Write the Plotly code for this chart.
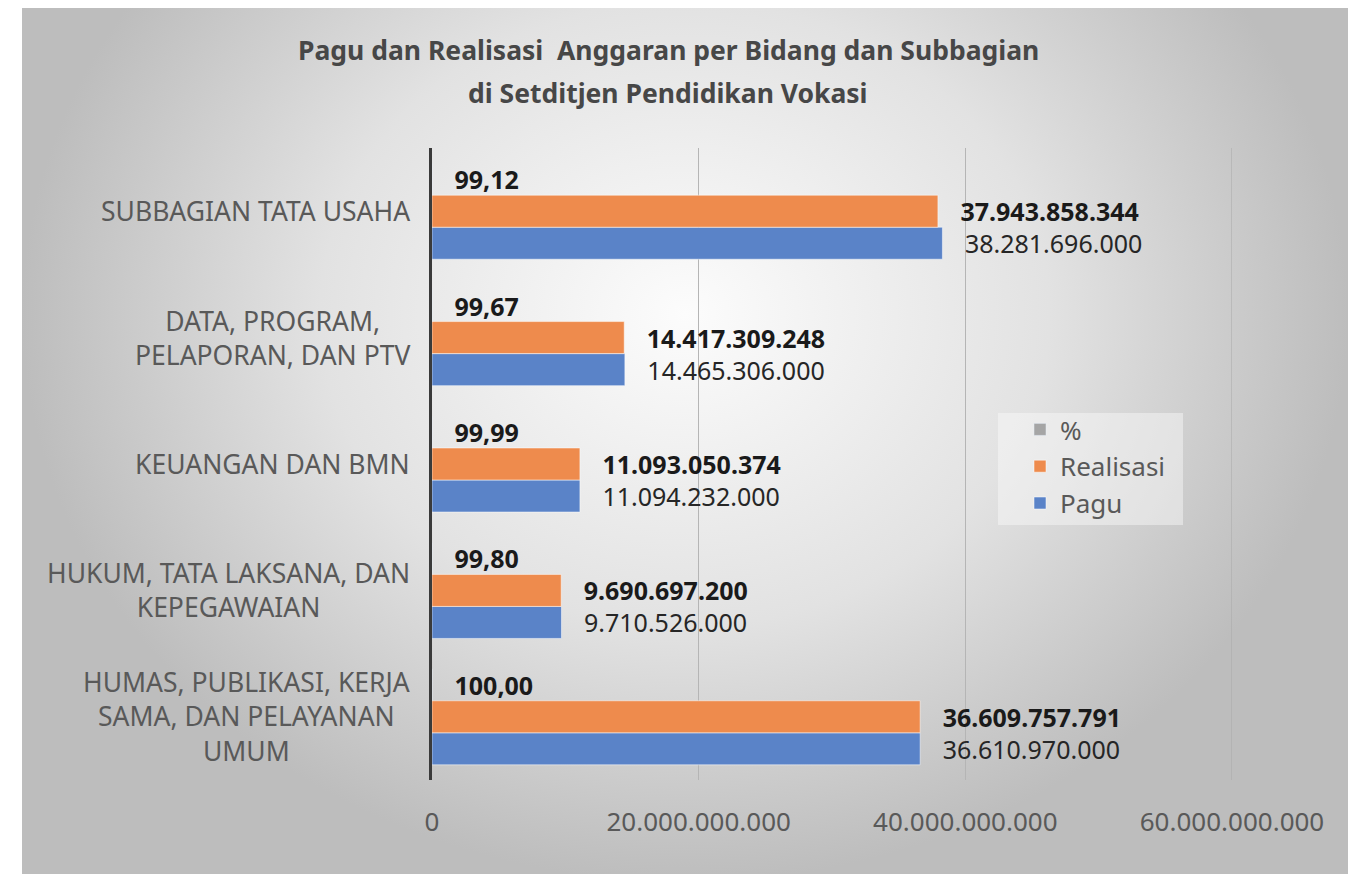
import plotly.graph_objects as go

# data (bottom to top, as plotly draws categories)
kategori = [
    'HUMAS, PUBLIKASI, KERJA<br>SAMA, DAN PELAYANAN<br>UMUM',
    'HUKUM, TATA LAKSANA, DAN<br>KEPEGAWAIAN',
    'KEUANGAN DAN BMN',
    'DATA, PROGRAM,<br>PELAPORAN, DAN PTV',
    'SUBBAGIAN TATA USAHA',
]
pagu = [36610970000, 9710526000, 11094232000, 14465306000, 38281696000]
realisasi = [36609757791, 9690697200, 11093050374, 14417309248, 37943858344]
persen = [100.00, 99.80, 99.99, 99.67, 99.12]
tick_vals = [0, 20000000000, 40000000000, 60000000000]

FONT = 'Noto Sans'
W, H = 1363, 874
OFF = 8  # margin body halaman
pad = '\u00a0\u00a0\u00a0'


def px(x):
    return (x - OFF) / W


def py(y):
    return 1 - (y - OFF) / H


fig = go.Figure()

# latar belakang gradasi (subplot x/y, disembunyikan)
fig.add_trace(go.Scatter(
    x=[0, 1, 1, 0, 0], y=[0, 0, 1.3, 1.3, 0],
    xaxis='x', yaxis='y', mode='none', fill='toself',
    fillgradient=dict(type='radial', colorscale=[[0, '#fcfcfc'], [0.55, '#e2e2e2'], [1, '#bdbdbd']]),
    hoverinfo='skip', showlegend=False,
))

fig.add_trace(go.Bar(
    y=kategori, x=pagu, name='Pagu', orientation='h',
    xaxis='x2', yaxis='y2',
    marker=dict(color='#5A83C8', line=dict(color='rgba(255,255,255,0.5)', width=1)),
    texttemplate=pad + '%{x:,.0f}', textposition='outside',
    textfont=dict(family=FONT, size=25, color='#262626'),
    constraintext='none',
))
fig.add_trace(go.Bar(
    y=kategori, x=realisasi, name='Realisasi', orientation='h',
    xaxis='x2', yaxis='y2',
    marker=dict(color='#EE8B4D', line=dict(color='rgba(255,255,255,0.5)', width=1)),
    texttemplate=pad + '<b>%{x:,.0f}</b>', textposition='outside',
    textfont=dict(family=FONT, size=25, color='#1a1a1a'),
    constraintext='none',
))
fig.add_trace(go.Bar(
    y=kategori, x=persen, name='%', orientation='h',
    xaxis='x2', yaxis='y2',
    marker=dict(color='#A5A5A5'),
    texttemplate=pad + '<b>%{x:.2f}</b>', textposition='outside',
    textfont=dict(family=FONT, size=25, color='#1a1a1a'),
    constraintext='none',
))

# label kategori, baris di tengah
for k in kategori:
    fig.add_annotation(
        x=px(412), xref='paper', y=k, yref='y2',
        text=k, showarrow=False, xanchor='right', yanchor='middle', align='center',
        font=dict(family=FONT, size=26.5, color='#595959'),
    )

fig.add_annotation(x=px(668), y=py(50), xref='paper', yref='paper',
                   xanchor='center', yanchor='middle',
                   text='<b>Pagu dan Realisasi  Anggaran per Bidang dan Subbagian</b>',
                   showarrow=False, font=dict(family=FONT, size=26.5, color='#474747'))
fig.add_annotation(x=px(668), y=py(93), xref='paper', yref='paper',
                   xanchor='center', yanchor='middle',
                   text='<b>di Setditjen Pendidikan Vokasi</b>',
                   showarrow=False, font=dict(family=FONT, size=26.5, color='#474747'))

# garis grid terakhir (60 M) dan kotak legenda
fig.add_shape(type='line', xref='x2', yref='y2 domain', x0=tick_vals[-1], x1=tick_vals[-1],
              y0=0, y1=1, line=dict(color='#a8a8a8', width=1), layer='above')
fig.add_shape(type='rect', xref='paper', yref='paper', x0=px(998), x1=px(1183),
              y0=py(525), y1=py(413), line=dict(width=0),
              fillcolor='rgba(250,250,250,0.45)', layer='above')

fig.update_layout(
    width=W, height=H, autosize=False,
    margin=dict(l=0, r=0, t=0, b=0, pad=0),
    paper_bgcolor='white',
    plot_bgcolor='rgba(0,0,0,0)',
    separators=',.',
    barmode='group', bargap=0.24, bargroupgap=0,
    showlegend=True,
    legend=dict(
        x=px(1020), y=py(406), xanchor='left', yanchor='top',
        traceorder='reversed', bgcolor='rgba(0,0,0,0)',
        font=dict(family=FONT, size=26, color='#595959'),
    ),
    xaxis=dict(domain=[px(22), px(1348)], range=[0, 1], visible=False,
               fixedrange=True, automargin=False),
    yaxis=dict(domain=[0, py(8)], range=[0, 1], visible=False,
               fixedrange=True, automargin=False),
    xaxis2=dict(
        domain=[px(432), px(1232)], anchor='y2', range=[0, 60000000000],
        tickvals=tick_vals, tickformat=',', showgrid=True, automargin=False,
        gridcolor='#b5b5b5', gridwidth=1, zeroline=False, showline=False,
        ticks='', ticklabelstandoff=24,
        tickfont=dict(family=FONT, size=26, color='#595959'),
    ),
    yaxis2=dict(
        domain=[py(780), py(148)], anchor='x2', showticklabels=False,
        automargin=False,
        showgrid=False, showline=True, linecolor='#3a3a3a', linewidth=3, ticks='',
    ),
)

fig.write_html("out.html")
